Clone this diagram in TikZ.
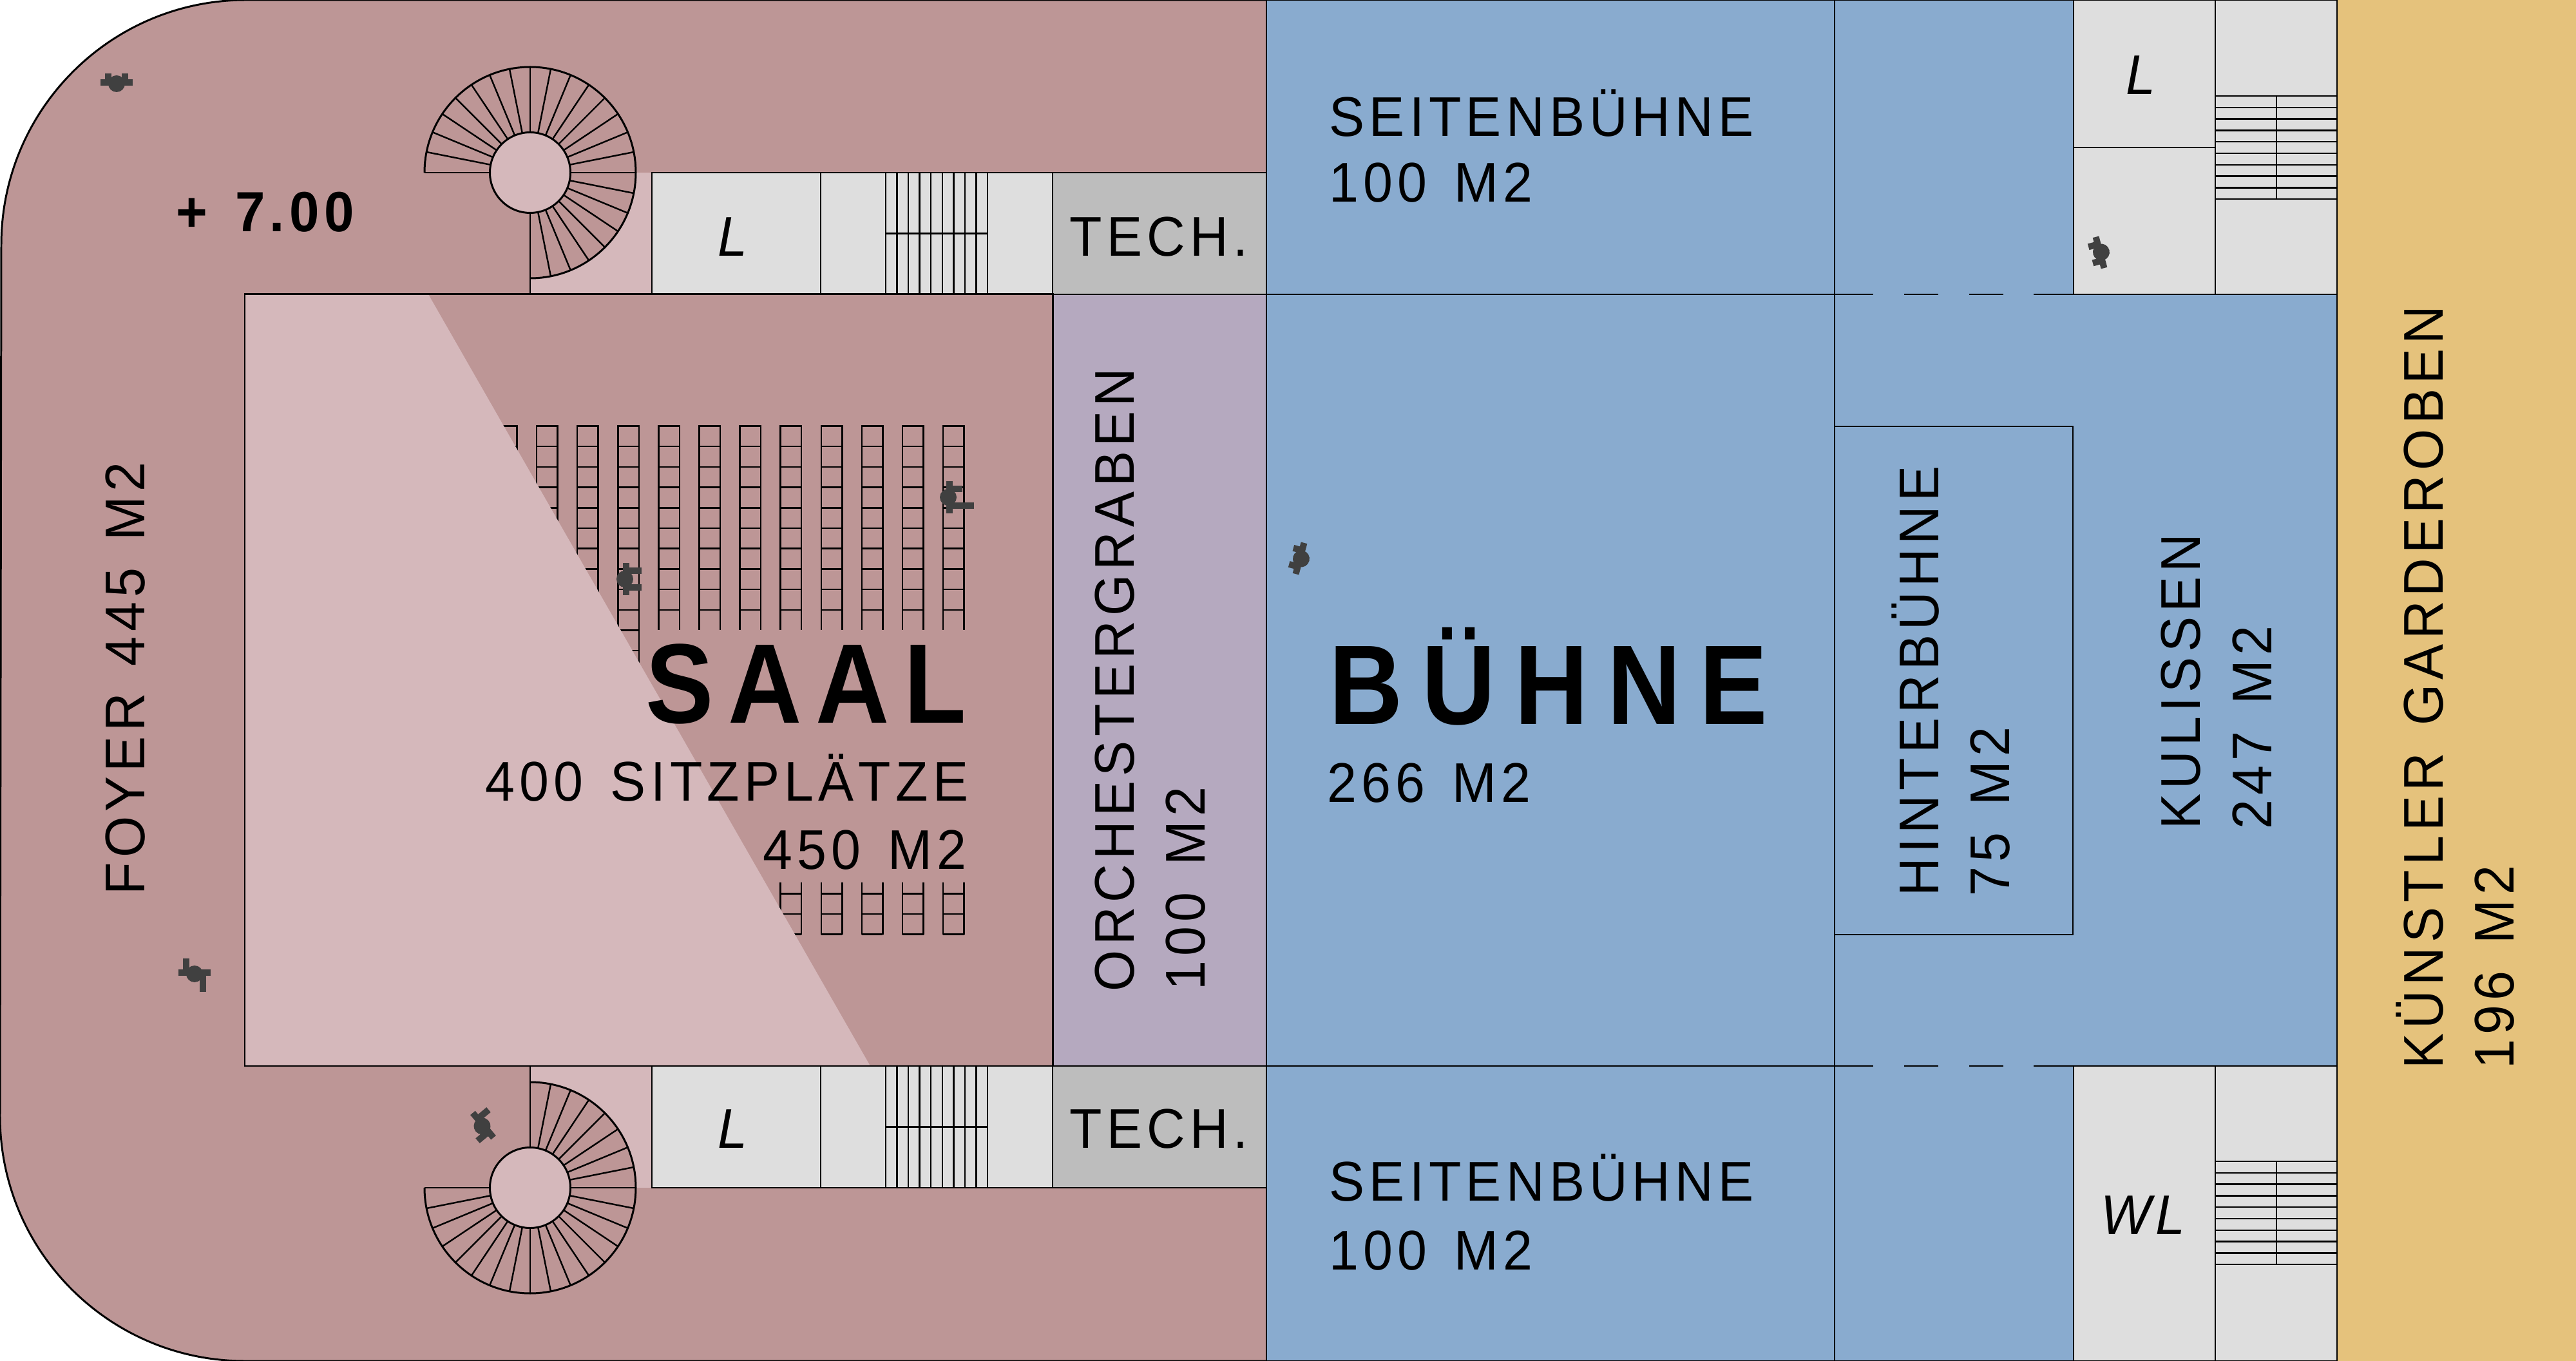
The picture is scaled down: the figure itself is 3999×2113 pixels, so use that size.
\documentclass[tikz,border=0pt]{standalone}
\usepackage{fontspec}
\setmainfont{Liberation Sans}
\newfontfamily\plan[LetterSpace=8.3,FakeStretch=0.95,WordSpace=1.4]{Liberation Sans}
\newfontfamily\plansaal[LetterSpace=12.7,FakeStretch=0.9]{Liberation Sans}
\newfontfamily\planbuehne[LetterSpace=16.8,FakeStretch=0.9]{Liberation Sans}
\newcommand{\gr}[1]{\fontsize{#1}{#1}\selectfont}

\definecolor{foyer}{HTML}{BD9696}
\definecolor{hell}{HTML}{D5B8BB}
\definecolor{buehne}{HTML}{89ABCF}
\definecolor{graben}{HTML}{B5A9BF}
\definecolor{garderobe}{HTML}{E5C27C}
\definecolor{lager}{HTML}{DEDEDE}
\definecolor{technik}{HTML}{BDBDBD}
\definecolor{figur}{HTML}{404040}

\tikzset{
  wand/.style={black,line width=0.85pt},
  fein/.style={black,line width=0.7pt},
  raum/.style={font=\plan\gr{24.7},anchor=base west,inner sep=0pt},
  raumrechts/.style={font=\plan\gr{24.7},anchor=base east,inner sep=0pt},
  hoch/.style={font=\plan\gr{24.7},anchor=base west,inner sep=0pt,rotate=90},
  kurz/.style={font=\plan\itshape\gr{24.7},anchor=base,inner sep=0pt},
  pics/figura/.style 2 args={code={
    \fill[figur] (-5,-25) rectangle (5,25);
    \fill[figur] (-2,0) circle (13);
    \fill[figur] (0,-18) rectangle (#1,-8);
    \fill[figur] (0,8) rectangle (#2,18);
  }},
  pics/wendel/.style={code={
    \fill[foyer] (0,0) -- (#1:164) arc[start angle=#1,delta angle=270,radius=164] -- cycle;
    \draw[wand] (#1:164) arc[start angle=#1,delta angle=270,radius=164];
    \foreach \s in {0,...,24}
      \draw[fein] (#1+11.25*\s:62.5) -- (#1+11.25*\s:164);
    \filldraw[wand,fill=hell] (0,0) circle (62.5);
  }},
}

\begin{document}
\begin{tikzpicture}[x=0.01cm,y=-0.01cm]
\useasboundingbox (0,0) rectangle (3999,2113);

% flaechen
\fill[garderobe] (3628,0) rectangle (3999,2113);
\fill[buehne] (1966,0) rectangle (3628,2113);
\fill[foyer] (1966,0) -- (382,0) arc[start angle=270,end angle=180,radius=380] -- (0,1733) arc[start angle=180,end angle=90,radius=380] -- (1966,2113) -- cycle;
\fill[hell] (823,268) rectangle (1012,457);
\fill[hell] (823,1655) rectangle (1012,1844);
\fill[graben] (1634,457) rectangle (1966,1655);

% sitze
\foreach \c in {0,...,11} {
  \pgfmathsetmacro\cx{770+63.1*\c}
  \pgfmathsetmacro\cend{\c<4 ? 1030 : 978}
  \pgfmathtruncatemacro\nr{\c<4 ? 11 : 9}
  \draw[fein] (\cx,\cend) -- (\cx,661.5) -- (\cx+32.5,661.5) -- (\cx+32.5,\cend);
  \foreach \r in {0,...,\nr}
    \draw[fein] (\cx,661.5+31.7*\r) -- (\cx+32.5,661.5+31.7*\r);
}
\foreach \c in {7,...,11} {
  \pgfmathsetmacro\cx{770+63.1*\c}
  \draw[fein] (\cx,1370) -- (\cx,1451) (\cx+32.5,1370) -- (\cx+32.5,1451);
  \foreach \r in {0,1,2}
    \draw[fein] (\cx,1387.3+31.7*\r) -- (\cx+32.5,1387.3+31.7*\r);
}
\fill[hell] (380,457) -- (665,457) -- (1351,1655) -- (380,1655) -- cycle;

% seitenraeume
\foreach \y in {268,1655} {
  \filldraw[fein,fill=lager] (1012,\y) rectangle (1274,\y+189);
  \filldraw[fein,fill=lager] (1274,\y) rectangle (1634,\y+189);
  \filldraw[fein,fill=technik] (1634,\y) rectangle (1966,\y+189);
  \foreach \t in {0,...,9}
    \draw[fein] (1375+17.55*\t,\y) -- (1375+17.55*\t,\y+189);
  \draw[fein] (1375,\y+94.5) -- (1533,\y+94.5);
}
\filldraw[fein,fill=lager] (3219,0) rectangle (3439,229);
\filldraw[fein,fill=lager] (3219,229) rectangle (3439,457);
\filldraw[fein,fill=lager] (3439,0) rectangle (3628,457);
\filldraw[fein,fill=lager] (3219,1655) rectangle (3439,2113);
\filldraw[fein,fill=lager] (3439,1655) rectangle (3628,2113);
\foreach \y in {149,1803} {
  \foreach \t in {0,...,9}
    \draw[fein] (3439,\y+17.8*\t) -- (3628,\y+17.8*\t);
  \draw[fein] (3534,\y) -- (3534,\y+160);
}

% wendeltreppen
\pic (wendeloben) at (823,268) {wendel=180};
\pic (wendelunten) at (823,1844) {wendel=270};
\draw[fein] (823,330.5) -- (823,457);
\draw[fein] (823,1655) -- (823,1781.5);

% waende
\draw[wand] (1966,0) -- (382,0) arc[start angle=270,end angle=180,radius=380] -- (0,1733) arc[start angle=180,end angle=90,radius=380] -- (1966,2113);
\draw[wand] (380,457) rectangle (1634,1655);
\draw[fein] (1966,0) -- (1966,2113) (2848,0) -- (2848,2113) (3628,0) -- (3628,2113);
\draw[wand] (1966,0) -- (3628,0) (1966,2113) -- (3628,2113);
\draw[fein] (2848,662) rectangle (3218,1451);
\foreach \y in {457,1655} {
  \draw[fein] (1966,\y) -- (2908,\y) (2956,\y) -- (3009,\y) (3057,\y) -- (3110,\y) (3157,\y) -- (3628,\y);
}

% figuren
\pic (figA) [rotate=90] at (181,128) {figura={14}{14}};
\pic (figB) [rotate=195] at (3260,392) {figura={15}{15}};
\pic (figC) [rotate=0] at (1474,772) {figura={20}{38}};
\pic (figD) [rotate=0] at (972,899) {figura={24}{24}};
\pic (figE) [rotate=165] at (2018,867) {figura={14}{14}};
\pic (figF) [rotate=90] at (302,1510) {figura={22}{-30}};
\pic (figG) [rotate=40] at (750,1747) {figura={22}{-22}};

% texte
\node[raum,font=\plan\bfseries\gr{25}] (hoehe) at (273,360) {+ 7.00};
\node[hoch] (foyertext) at (224,1390) {FOYER 445 M2};
\node[font=\plansaal\bfseries\gr{50},inner sep=0pt,anchor=base east] (saal) at (1501,1123) {SAAL};
\node[raumrechts] (plaetze) at (1504,1243) {400 SITZPLÄTZE};
\node[raumrechts] (saalflaeche) at (1501,1349) {450 M2};
\node[hoch] (grabentext) at (1760,1540) {ORCHESTERGRABEN};
\node[hoch] (grabenflaeche) at (1870,1538) {100 M2};
\node[font=\planbuehne\bfseries\gr{50},inner sep=0pt,anchor=base west] (buehnetext) at (2063,1125) {BÜHNE};
\node[raum] (buehneflaeche) at (2060,1245) {266 M2};
\node[raum] (seiteoben) at (2063,212) {SEITENBÜHNE};
\node[raum] (seiteobenm) at (2063,314) {100 M2};
\node[raum] (seiteunten) at (2063,1864) {SEITENBÜHNE};
\node[raum] (seiteuntenm) at (2063,1971) {100 M2};
\node[raum] (techoben) at (1660,398) {TECH.};
\node[raum] (techunten) at (1660,1782) {TECH.};
\node[kurz] (loben) at (1137,398) {L};
\node[kurz] (lunten) at (1137,1782) {L};
\node[kurz] (lrechts) at (3323,147) {L};
\node[kurz] (wl) at (3327,1916) {WL};
\node[hoch] (hinter) at (3009,1392) {HINTERBÜHNE};
\node[hoch] (hinterm) at (3119,1392) {75 M2};
\node[hoch] (kulissen) at (3415,1288) {KULISSEN};
\node[hoch] (kulissenm) at (3526,1288) {247 M2};
\node[hoch] (kuenstler) at (3792,1660) {KÜNSTLER GARDEROBEN};
\node[hoch] (kuenstlerm) at (3902,1660) {196 M2};
\end{tikzpicture}
\end{document}
